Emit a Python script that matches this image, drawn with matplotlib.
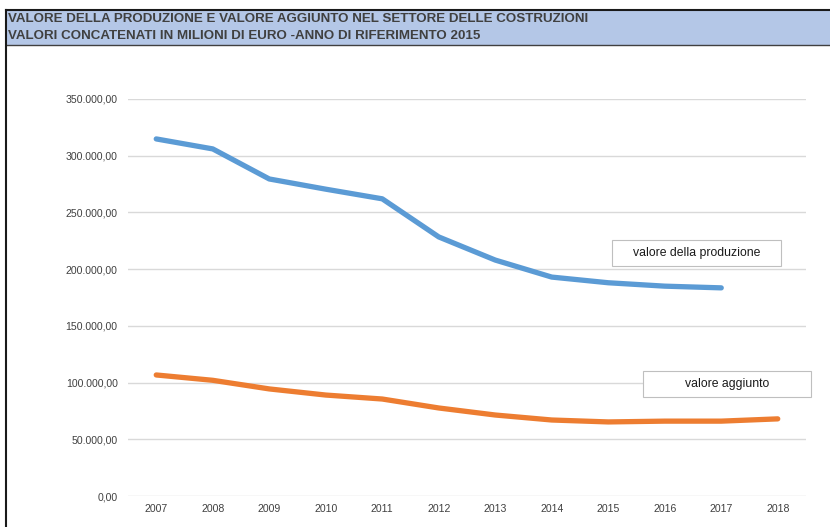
import matplotlib
matplotlib.use("Agg")
import matplotlib.pyplot as plt
from matplotlib.patches import Rectangle
from matplotlib.lines import Line2D

years = ["2007", "2008", "2009", "2010", "2011", "2012", "2013", "2014", "2015", "2016", "2017", "2018"]
produzione = [314800, 306000, 279500, 270500, 262000, 228400, 208000, 193000, 188000, 185000, 183500]
aggiunto = [106700, 102000, 94400, 89000, 85500, 77600, 71400, 67000, 65300, 66000, 66000, 68000]
yticks = [0, 50000, 100000, 150000, 200000, 250000, 300000, 350000]
ytick_labels = ["0,00", "50.000,00", "100.000,00", "150.000,00", "200.000,00", "250.000,00", "300.000,00", "350.000,00"]
title_lines = ["VALORE DELLA PRODUZIONE E VALORE AGGIUNTO NEL SETTORE DELLE COSTRUZIONI",
               "VALORI CONCATENATI IN MILIONI DI EURO -ANNO DI RIFERIMENTO 2015"]
label_prod = "valore della produzione"
label_agg = "valore aggiunto"

W, H = 830, 527
fig = plt.figure(figsize=(W / 100, H / 100), dpi=100)
fig.patch.set_facecolor("white")

def fx(px):
    return px / W

def fy(py):
    return 1 - py / H

# Header band
fig.patches.append(Rectangle((fx(6), fy(45)), 1 - fx(6), fy(10) - fy(45),
                             transform=fig.transFigure, facecolor="#b4c7e7",
                             edgecolor="none", zorder=0))
fig.lines.append(Line2D([fx(6), 1], [fy(10), fy(10)], transform=fig.transFigure, color="#1a1a1a", lw=1.5))
fig.lines.append(Line2D([fx(6), 1], [fy(45), fy(45)], transform=fig.transFigure, color="#404040", lw=1.0))
fig.lines.append(Line2D([fx(6), fx(6)], [0, fy(10)], transform=fig.transFigure, color="#1a1a1a", lw=1.5))

title_font = ["Liberation Sans Narrow", "Liberation Sans", "DejaVu Sans"]
fig.text(fx(8), fy(18.5), title_lines[0], family=title_font, fontsize=9.6, color="#404040",
         fontweight="bold", va="center", ha="left")
fig.text(fx(8), fy(36), title_lines[1], family=title_font, fontsize=9.6, color="#404040",
         fontweight="bold", va="center", ha="left")

ax = fig.add_axes([fx(128), fy(496), fx(806) - fx(128), fy(99) - fy(496)])
x = list(range(len(years)))
ax.plot(x[:len(produzione)], produzione, color="#5b9bd5", lw=3.8, solid_capstyle="round",
        solid_joinstyle="round", zorder=3)
ax.plot(x[:len(aggiunto)], aggiunto, color="#ed7d31", lw=3.8, solid_capstyle="round",
        solid_joinstyle="round", zorder=3)

ax.set_xlim(-0.5, len(years) - 0.5)
ax.set_ylim(0, 350000)
ax.set_yticks(yticks)
ax.set_yticklabels(ytick_labels)
ax.set_xticks(x)
ax.set_xticklabels(years)
ax.grid(axis="y", color="#d9d9d9", lw=1.0, zorder=0)
ax.set_axisbelow(True)
for s in ax.spines.values():
    s.set_visible(False)
ax.tick_params(length=0, labelsize=7.6, labelcolor="#404040")
ax.tick_params(axis="y", pad=7.5)
ax.tick_params(axis="x", pad=5.5)
for lab in ax.get_xticklabels() + ax.get_yticklabels():
    lab.set_family(["Liberation Sans", "DejaVu Sans"])

# Label boxes
def label_box(x0, y0, x1, y1, text):
    fig.patches.append(Rectangle((fx(x0), fy(y1)), fx(x1) - fx(x0), fy(y0) - fy(y1),
                                 transform=fig.transFigure, facecolor="white",
                                 edgecolor="#bfbfbf", lw=0.8, zorder=5))
    fig.text(fx((x0 + x1) / 2), fy((y0 + y1) / 2), text, family=["Liberation Sans", "DejaVu Sans"],
             fontsize=8.8, color="#1a1a1a", ha="center", va="center", zorder=6)

label_box(612, 240, 781, 266, label_prod)
label_box(643, 371, 811, 397, label_agg)

fig.savefig("out.png", dpi=100)
